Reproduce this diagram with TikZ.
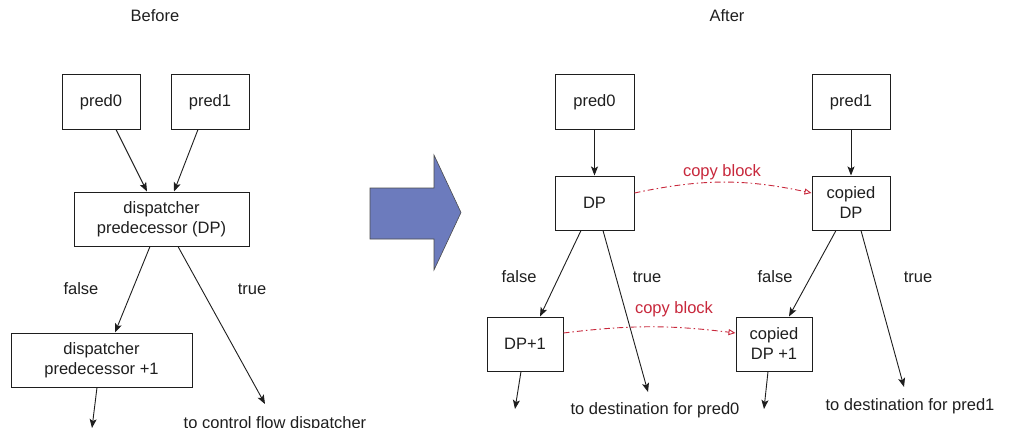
\documentclass[tikz,border=0pt]{standalone}
\usepackage{fontspec}
\setmainfont{Liberation Sans}
\usetikzlibrary{arrows.meta,calc}
\definecolor{arrowblue}{RGB}{108,123,189}
\definecolor{copyred}{RGB}{200,40,60}
\definecolor{linegray}{RGB}{30,30,30}
\begin{document}
\begin{tikzpicture}[x=1pt,y=-1pt,
  every node/.style={font=\fontsize{16.5}{20}\selectfont, text=black!88},
  blockbox/.style={draw=linegray, line width=1pt, rectangle, minimum height=54pt, align=center, inner sep=0pt},
  flow/.style={draw=linegray, line width=0.9pt, -{Stealth[length=9pt,width=7pt,inset=2pt]}},
  copyarrow/.style={draw=copyred, line width=0.9pt, dash pattern=on 6pt off 3pt on 1.5pt off 3pt, -{Triangle[open,length=7pt,width=6pt]}},
  lbl/.style={anchor=center},
  copylbl/.style={text=copyred, anchor=center}
]
\useasboundingbox (0,0) rectangle (1018,428);
\fill[white] (0,0) rectangle (1018,428);

% titles
\node[lbl] (tbefore) at (155,16) {Before};
\node[lbl] (tafter) at (727,16) {After};

% ---------- Before ----------
\node[blockbox, minimum width=78pt] (Lp0) at (101,102) {pred0};
\node[blockbox, minimum width=78pt] (Lp1) at (210,102) {pred1};
\node[blockbox, minimum width=175pt] (Ldp) at (161.5,219) {dispatcher\\predecessor (DP)};
\node[blockbox, minimum width=181pt] (Ldp1) at (101.5,360) {dispatcher\\predecessor +1};

\draw[flow] ([xshift=15pt]Lp0.south) -- ([xshift=-14.5pt]Ldp.north);
\draw[flow] ([xshift=-12pt]Lp1.south) -- ([xshift=12.5pt]Ldp.north);
\draw[flow] ([xshift=-11.5pt]Ldp.south) -- ([xshift=13.5pt]Ldp1.north);
\coordinate (Ltrue) at (265,404);
\draw[flow] ([xshift=16.5pt]Ldp.south) -- (Ltrue);
\coordinate (Lout) at (92,428);
\draw[flow] ([xshift=-4.5pt]Ldp1.south) -- (Lout);

\node[lbl] (Lfalse) at (81,289) {false};
\node[lbl] (Ltruel) at (252,289) {true};
\node[anchor=base] (Lcfd) at (275,428) {to control flow dispatcher};

% ---------- big arrow ----------
\draw[draw=black!70, fill=arrowblue, line width=0.6pt, line join=miter]
  (370,188) -- (434,188) -- (434,155) -- (461,212.5) -- (434,270) -- (434,239) -- (370,239) -- cycle;

% ---------- After ----------
\node[blockbox, minimum width=79pt] (Rp0) at (594.5,102) {pred0};
\node[blockbox, minimum width=78pt] (Rp1) at (851,102) {pred1};
\node[blockbox, minimum width=79pt] (Rdp) at (594.5,203) {DP};
\node[blockbox, minimum width=78pt] (Rcdp) at (851,203) {copied\\DP};
\node[blockbox, minimum width=76pt] (Rdp1) at (525,344) {DP+1};
\node[blockbox, minimum width=76pt] (Rcdp1) at (774,344) {copied\\DP +1};

\draw[flow] (Rp0.south) -- (Rdp.north);
\draw[flow] (Rp1.south) -- (Rcdp.north);
\draw[flow] ([xshift=-13.5pt]Rdp.south) -- ([xshift=15pt]Rdp1.north);
\coordinate (Rtrue0) at (648,392);
\draw[flow] ([xshift=8.5pt]Rdp.south) -- (Rtrue0);
\draw[flow] ([xshift=-15pt]Rcdp.south) -- ([xshift=15pt]Rcdp1.north);
\coordinate (Rtrue1) at (904,387);
\draw[flow] ([xshift=10pt]Rcdp.south) -- (Rtrue1);
\coordinate (Rout0) at (515,409);
\draw[flow] ([xshift=-4pt]Rdp1.south) -- (Rout0);
\coordinate (Rout1) at (764,409);
\draw[flow] ([xshift=-6pt]Rcdp1.south) -- (Rout1);

\node[lbl] (Rfalse0) at (519,277) {false};
\node[lbl] (Rtrue0l) at (647,277) {true};
\node[lbl] (Rfalse1) at (775,277) {false};
\node[lbl] (Rtrue1l) at (918,277) {true};
\node[lbl] (Rdest0) at (655,410) {to destination for pred0};
\node[lbl] (Rdest1) at (910,406) {to destination for pred1};

\draw[copyarrow] ([yshift=10pt]Rdp.east) to[bend left=12] ([yshift=10pt]Rcdp.west);
\node[copylbl] (cb1) at (722,172) {copy block};
\draw[copyarrow] ([yshift=11pt]Rdp1.east) to[bend left=7] ([yshift=11pt]Rcdp1.west);
\node[copylbl] (cb2) at (674,309) {copy block};
\end{tikzpicture}
\end{document}
